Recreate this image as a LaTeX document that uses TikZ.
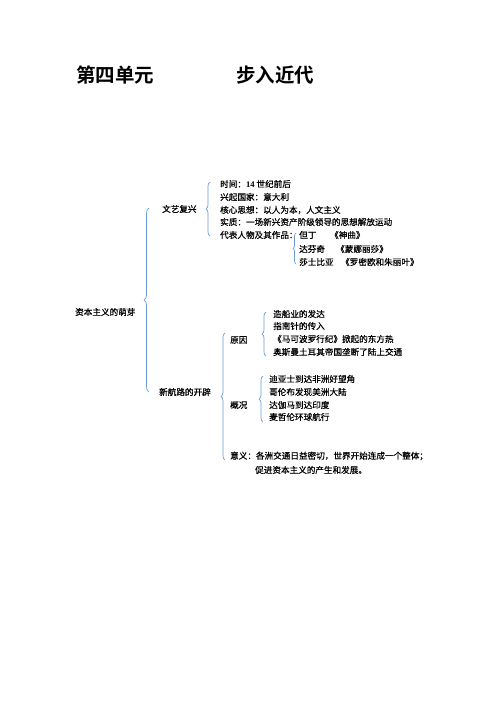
\documentclass[tikz,border=0pt]{standalone}
\usepackage{fontspec}
\setmainfont{Liberation Serif}
\newfontfamily\cjk[FakeBold=0.6]{Noto Sans CJK SC}
\newfontfamily\cjkb{Noto Sans CJK SC Bold}
\usetikzlibrary{decorations.pathreplacing}
\definecolor{bracecol}{HTML}{6A9AD6}
\begin{document}
\begin{tikzpicture}[x=1pt,y=-1pt,
  txt/.style={anchor=west,inner sep=0pt,font=\cjk\fontsize{8.6}{10}\selectfont},
  ttl/.style={anchor=west,inner sep=0pt,font=\cjkb\fontsize{19.5}{22}\selectfont},
  br/.style={draw=bracecol,line width=0.7pt,decorate,decoration={brace,amplitude=#1}},
  br/.default=4pt]
\useasboundingbox (0,0) rectangle (496,702);
% titles
\node[ttl] (t1) at (76,75) {第四单元};
\node[ttl] (t2) at (236,75) {步入近代};
% root
\node[txt] (root) at (75,312) {资本主义的萌芽};
\coordinate (b0t) at (149,208);
\coordinate (b0b) at (149,392);
\draw[br=5pt] (b0b) -- (b0t);
% 文艺复兴
\node[txt] (wy) at (162,209) {文艺复兴};
\coordinate (b1t) at (210,182);
\coordinate (b1b) at (210,236);
\draw[br=4pt] (b1b) -- (b1t);
\node[txt] (w1) at (220,184) {时间：{\rmfamily\bfseries 14} 世纪前后};
\node[txt] (w2) at (220,197) {兴起国家：意大利};
\node[txt] (w3) at (220,210) {核心思想：以人为本，人文主义};
\node[txt] (w4) at (220,222) {实质：一场新兴资产阶级领导的思想解放运动};
\node[txt] (w5) at (220,235) {代表人物及其作品：};
\coordinate (b2t) at (296,233);
\coordinate (b2b) at (296,264);
\draw[br=3pt] (b2b) -- (b2t);
\node[txt] (p1) at (299,235) {但丁};
\node[txt] (p1w) at (330,235) {《神曲》};
\node[txt] (p2) at (299,249) {达芬奇};
\node[txt] (p2w) at (336,249) {《蒙娜丽莎》};
\node[txt] (p3) at (299,262) {莎士比亚};
\node[txt] (p3w) at (341,262) {《罗密欧和朱丽叶》};
% 新航路的开辟
\node[txt] (xh) at (159,392) {新航路的开辟};
\coordinate (b3t) at (225,333);
\coordinate (b3b) at (225,460);
\draw[br=4pt] (b3b) -- (b3t);
\node[txt] (yy) at (230,340) {原因};
\coordinate (b4t) at (266,312);
\coordinate (b4b) at (266,356);
\draw[br=4pt] (b4b) -- (b4t);
\node[txt] (y1) at (273,314) {造船业的发达};
\node[txt] (y2) at (273,326) {指南针的传入};
\node[txt] (y3) at (273,339) {《马可波罗行纪》掀起的东方热};
\node[txt] (y4) at (273,352) {奥斯曼土耳其帝国垄断了陆上交通};
\node[txt] (gk) at (230,405) {概况};
\coordinate (b5t) at (263,376);
\coordinate (b5b) at (263,422);
\draw[br=4pt] (b5b) -- (b5t);
\node[txt] (g1) at (269,379) {迪亚士到达非洲好望角};
\node[txt] (g2) at (269,392) {哥伦布发现美洲大陆};
\node[txt] (g3) at (269,405) {达伽马到达印度};
\node[txt] (g4) at (269,417) {麦哲伦环球航行};
\node[txt] (yi1) at (230,456) {意义：各洲交通日益密切，世界开始连成一个整体；};
\node[txt] (yi2) at (255,470) {促进资本主义的产生和发展。};
\end{tikzpicture}
\end{document}
